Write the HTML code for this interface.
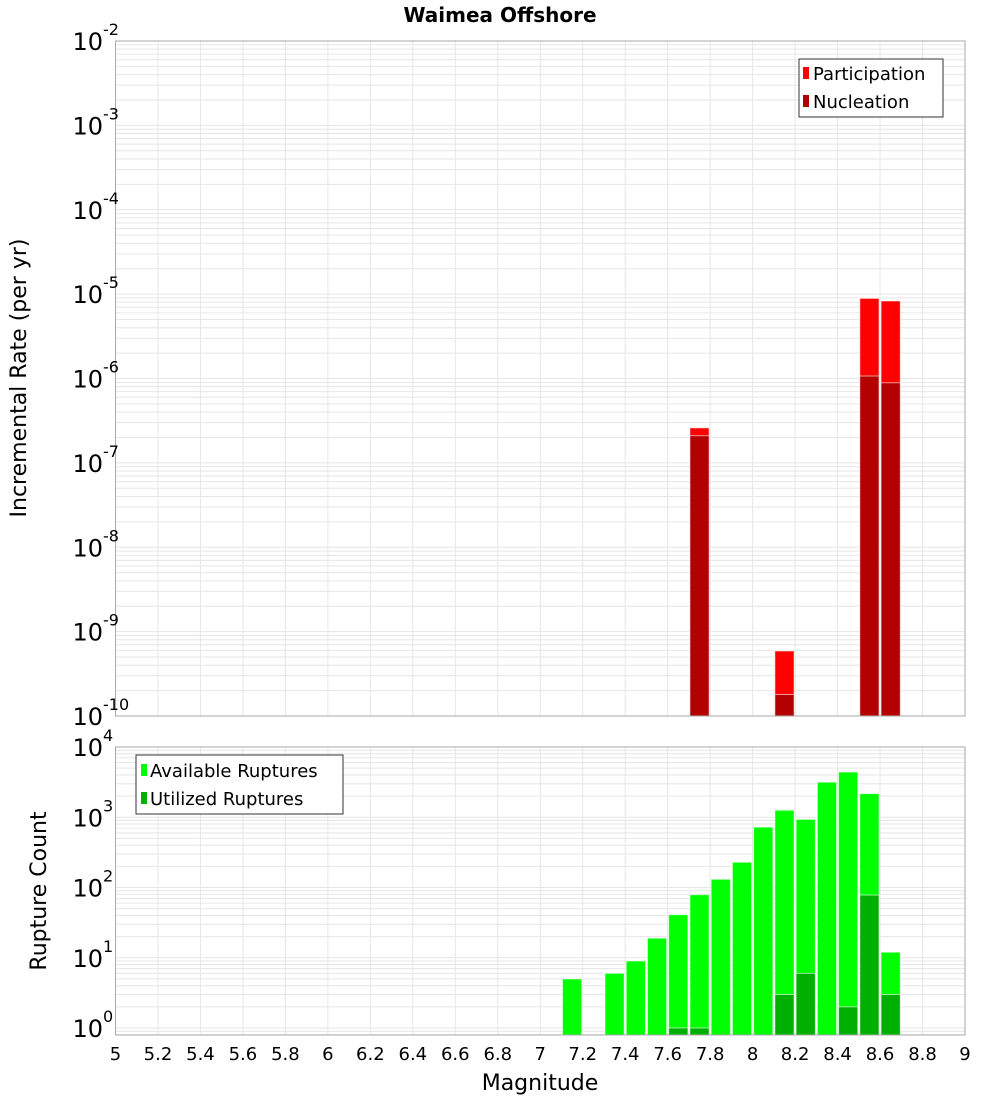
<!DOCTYPE html>
<html><head><meta charset="utf-8"><style>
body{margin:0;background:#fff;}
svg{display:block;font-family:"DejaVu Sans","Liberation Sans",sans-serif;}
</style></head><body>
<svg id="chart" width="1000" height="1100" viewBox="0 0 1000 1100" xmlns="http://www.w3.org/2000/svg">
<text x="500" y="22" text-anchor="middle" font-weight="bold" font-size="20">Waimea Offshore</text>
<g id="topPanel"></g><g id="botPanel"></g>
<text transform="translate(26,378) rotate(-90)" text-anchor="middle" font-size="22">Incremental Rate (per yr)</text>
<text transform="translate(46,891) rotate(-90)" text-anchor="middle" font-size="22">Rupture Count</text>
<text x="540" y="1090" text-anchor="middle" font-size="22">Magnitude</text>
<g>
<rect x="799" y="59" width="144" height="58" fill="#fff" stroke="#333"/>
<rect x="803" y="67" width="6" height="12" fill="#ff0000"/>
<text x="813" y="80" font-size="18">Participation</text>
<rect x="803" y="95" width="6" height="12" fill="#b30000"/>
<text x="813" y="108" font-size="18">Nucleation</text>
</g>
<g>
<rect x="136" y="755" width="207" height="59" fill="#fff" stroke="#333"/>
<rect x="141" y="764" width="6" height="12" fill="#00ff00"/>
<text x="150" y="777" font-size="18">Available Ruptures</text>
<rect x="141" y="792" width="6" height="12" fill="#00b000"/>
<text x="150" y="805" font-size="18">Utilized Ruptures</text>
</g>
</svg>
<script>
const mags=[7.15,7.35,7.45,7.55,7.65,7.75,7.85,7.95,8.05,8.15,8.25,8.35,8.45,8.55,8.65];
const available=[5,6,9,19,41,79,131,229,724,1260,933,3160,4400,2170,12];
const utilized=[0,0,0,0,1,1,0,0,0,3,6,0,2,78,3];
const rateMags=[7.75,8.15,8.55,8.65];
const participation=[2.6e-7,5.9e-10,8.9e-6,8.3e-6];
const nucleation=[2.1e-7,1.8e-10,1.07e-6,8.9e-7];
const xTicks=[5,5.2,5.4,5.6,5.8,6,6.2,6.4,6.6,6.8,7,7.2,7.4,7.6,7.8,8,8.2,8.4,8.6,8.8,9];
const topDecades=[-2,-3,-4,-5,-6,-7,-8,-9,-10];
const botDecades=[4,3,2,1,0];

const NS="http://www.w3.org/2000/svg";
const X0=115.5,X1=965;
const xs=m=>X0+(m-5)/4*(X1-X0);
const topY=v=>41+(-2-Math.log10(v))*84.375;
const botY=v=>1028-Math.log10(v)*70.25;
function el(p,t,a){const e=document.createElementNS(NS,t);for(const k in a)e.setAttribute(k,a[k]);p.appendChild(e);return e;}
function panel(g,y0,y1,yf,lo,hi,name){
  el(g,'rect',{x:X0,y:y0,width:X1-X0,height:y1-y0,fill:'#fff'});
  for(let d=lo;d<hi;d++)for(let k=1;k<10;k++){const y=yf(k*Math.pow(10,d));if(y>=y0&&y<=y1){const l=el(g,'line',{x1:X0,x2:X1,y1:y,y2:y,stroke:'#e6e6e6','stroke-width':1});}}
  xTicks.forEach(t=>{const x=xs(t);el(g,'line',{x1:x,x2:x,y1:y0,y2:y1,stroke:'#e6e6e6','stroke-width':1});});
}
const topG=document.getElementById('topPanel'),botG=document.getElementById('botPanel');
panel(topG,41,716,topY,-10,-2,'top');
panel(botG,747,1035,botY,-1,4,'bottom');
const bw=(X1-X0)/40-2;
function bar(g,m,v,yf,base,fill,name){if(!v)return;const y=Math.max(yf(v),0);const b=el(g,'rect',{x:xs(m)-bw/2,y:y,width:bw,height:base-y,fill:fill,stroke:'rgba(255,255,255,0.6)','stroke-width':1});}
rateMags.forEach((m,i)=>{bar(topG,m,participation[i],topY,716,'#ff0000','participation-bar');bar(topG,m,nucleation[i],topY,716,'#b30000','nucleation-bar');});
mags.forEach((m,i)=>{bar(botG,m,available[i],botY,1035,'#00ff00','available-bar');bar(botG,m,utilized[i],botY,1035,'#00b000','utilized-bar');});
el(topG,'rect',{x:X0,y:41,width:X1-X0,height:675,fill:'none',stroke:'#aaa'});
el(botG,'rect',{x:X0,y:747,width:X1-X0,height:288,fill:'none',stroke:'#aaa'});
function decLabel(g,y,e,name){const t=el(g,'text',{x:103,y:y+9,'text-anchor':'end','font-size':24});t.textContent='10';const s=el(g,'text',{x:103,y:y-6,'font-size':16});s.textContent=String(e);}
topDecades.forEach(d=>decLabel(topG,topY(Math.pow(10,d)),d,'top-y-tick-label'));
botDecades.forEach(d=>decLabel(botG,botY(Math.pow(10,d)),d,'bottom-y-tick-label'));
xTicks.forEach(t=>{const e=el(botG,'text',{x:xs(t),y:1060,'text-anchor':'middle','font-size':18});e.textContent=String(t);});
</script>
</body></html>
